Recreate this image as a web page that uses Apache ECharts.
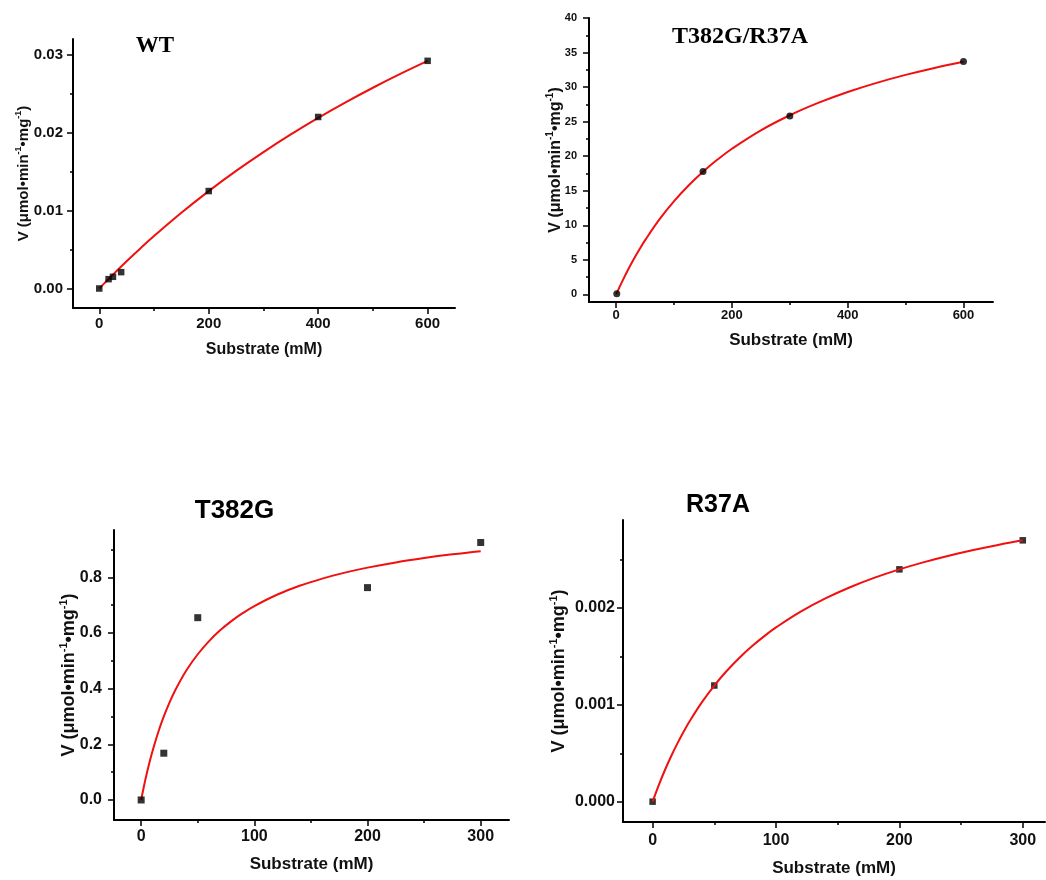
<!DOCTYPE html>
<html>
<head>
<meta charset="utf-8">
<script src="https://cdn.jsdelivr.net/npm/echarts@6/dist/echarts.min.js"></script>
<style>html,body{margin:0;padding:0;background:#fff}#chart{width:1046px;height:880px}</style>
</head>
<body>
<div id="chart"></div>
<script>
// ---------- data ----------
const wtSubstrate = [0, 17, 25, 40, 200, 400, 600];
const wtVelocity = [0, 0.0012, 0.0015, 0.0021, 0.0125, 0.0220, 0.0292];
const wtFitSubstrate = [0, 10, 25, 50, 75, 100, 150, 200, 250, 300, 350, 400, 450, 500, 550, 600];
const wtFitVelocity = [0, 0.000722, 0.001784, 0.003496, 0.005142, 0.006725, 0.009716, 0.012495, 0.015082, 0.017498, 0.019759, 0.021879, 0.023872, 0.025747, 0.027516, 0.029186];

const dmSubstrate = [1, 150, 300, 600];
const dmVelocity = [0.1, 17.8, 25.8, 33.7];
const dmFitSubstrate = [0, 5, 10, 20, 30, 40, 50, 75, 100, 125, 150, 175, 200, 250, 300, 350, 400, 450, 500, 550, 600];
const dmFitVelocity = [0, 0.921, 1.808, 3.485, 5.044, 6.498, 7.856, 10.893, 13.502, 15.769, 17.756, 19.512, 21.076, 23.739, 25.923, 27.746, 29.291, 30.616, 31.767, 32.775, 33.664];

const tgSubstrate = [0, 20, 50, 200, 300];
const tgVelocity = [0, 0.168, 0.655, 0.763, 0.925];
const tgFitSubstrate = [0, 2.5, 5, 7.5, 10, 15, 20, 25, 30, 40, 50, 60, 70, 80, 90, 100, 120, 140, 160, 180, 200, 225, 250, 275, 300];
const tgFitVelocity = [0, 0.0501, 0.0957, 0.1372, 0.1753, 0.2425, 0.3000, 0.3498, 0.3933, 0.4658, 0.5236, 0.5709, 0.6103, 0.6436, 0.6721, 0.6968, 0.7374, 0.7695, 0.7954, 0.8168, 0.8348, 0.8536, 0.8692, 0.8825, 0.8938];

const raSubstrate = [0, 50, 200, 300];
const raVelocity = [0, 0.0012, 0.0024, 0.0027];
const raFitSubstrate = [0, 5, 10, 15, 20, 25, 30, 40, 50, 60, 70, 80, 90, 100, 120, 140, 160, 180, 200, 220, 240, 260, 280, 300];
const raFitVelocity = [0, 0.0001714, 0.0003273, 0.0004696, 0.0006, 0.00072, 0.0008308, 0.0010286, 0.0012, 0.00135, 0.0014824, 0.0016, 0.0017053, 0.0018, 0.0019636, 0.0021, 0.0022154, 0.0023143, 0.0024, 0.002475, 0.0025412, 0.0026, 0.0026526, 0.0027];

// tick values and labels
const wtXTicks = [0, 200, 400, 600];           const wtXLabels = ['0', '200', '400', '600'];
const wtXMinor = [100, 300, 500];
const wtYTicks = [0, 0.01, 0.02, 0.03];        const wtYLabels = ['0.00', '0.01', '0.02', '0.03'];
const wtYMinor = [0.005, 0.015, 0.025];

const dmXTicks = [0, 200, 400, 600];           const dmXLabels = ['0', '200', '400', '600'];
const dmXMinor = [100, 300, 500];
const dmYTicks = [0, 5, 10, 15, 20, 25, 30, 35, 40];
const dmYLabels = ['0', '5', '10', '15', '20', '25', '30', '35', '40'];
const dmYMinor = [2.5, 7.5, 12.5, 17.5, 22.5, 27.5, 32.5, 37.5];

const tgXTicks = [0, 100, 200, 300];           const tgXLabels = ['0', '100', '200', '300'];
const tgXMinor = [50, 150, 250];
const tgYTicks = [0, 0.2, 0.4, 0.6, 0.8];      const tgYLabels = ['0.0', '0.2', '0.4', '0.6', '0.8'];
const tgYMinor = [0.1, 0.3, 0.5, 0.7, 0.9];

const raXTicks = [0, 100, 200, 300];           const raXLabels = ['0', '100', '200', '300'];
const raXMinor = [50, 150, 250];
const raYTicks = [0, 0.001, 0.002];            const raYLabels = ['0.000', '0.001', '0.002'];
const raYMinor = [0.0005, 0.0015, 0.0025];

const panelTitles = ['WT', 'T382G/R37A', 'T382G', 'R37A'];
const xName = 'Substrate (mM)';
const yName = 'V (μmol•min{s|-1}•mg{s|-1})';

// ---------- layout / style ----------
const SANS = '"Liberation Sans", Arial, sans-serif';
const SERIF = '"Liberation Serif", "Times New Roman", serif';

const panels = [
  { grid: {left: 73, top: 39, width: 382, height: 269}, x: [-48, 650], y: [-0.0025, 0.032],
    xt: wtXTicks, xl: wtXLabels, xm: wtXMinor, yt: wtYTicks, yl: wtYLabels, ym: wtYMinor,
    xFont: 15, yFont: 15, xMargin: 8, yMargin: 10, xNameFont: 16, yNameFont: 15, xNameGap: 34, yNameGap: 39,
    pts: [wtSubstrate, wtVelocity], fit: [wtFitSubstrate, wtFitVelocity], symbol: 'rect', symSize: 6.5, lineTop: false,
    title: {x: 155, y: 46, font: 'bold 23px ' + SERIF} },
  { grid: {left: 589, top: 18, width: 404, height: 284}, x: [-47, 651], y: [-1.1, 40],
    xt: dmXTicks, xl: dmXLabels, xm: dmXMinor, yt: dmYTicks, yl: dmYLabels, ym: dmYMinor,
    xFont: 13, yFont: 11, xMargin: 7, yMargin: 12, xNameFont: 17, yNameFont: 16, xNameGap: 30, yNameGap: 23,
    pts: [dmSubstrate, dmVelocity], fit: [dmFitSubstrate, dmFitVelocity], symbol: 'circle', symSize: 7, lineTop: false,
    title: {x: 740, y: 37, font: 'bold 24px ' + SERIF} },
  { grid: {left: 114, top: 530, width: 395, height: 290}, x: [-24, 325], y: [-0.072, 0.97],
    xt: tgXTicks, xl: tgXLabels, xm: tgXMinor, yt: tgYTicks, yl: tgYLabels, ym: tgYMinor,
    xFont: 16, yFont: 16, xMargin: 9, yMargin: 12, xNameFont: 17, yNameFont: 18, xNameGap: 36, yNameGap: 33,
    pts: [tgSubstrate, tgVelocity], fit: [tgFitSubstrate, tgFitVelocity], symbol: 'rect', symSize: 7, lineTop: false,
    title: {x: 234.5, y: 511, font: 'bold 26px ' + SANS} },
  { grid: {left: 623, top: 520, width: 422, height: 302}, x: [-24, 318], y: [-0.00021, 0.00291],
    xt: raXTicks, xl: raXLabels, xm: raXMinor, yt: raYTicks, yl: raYLabels, ym: raYMinor,
    xFont: 16, yFont: 16, xMargin: 11, yMargin: 8, xNameFont: 17, yNameFont: 18, xNameGap: 38, yNameGap: 52,
    pts: [raSubstrate, raVelocity], fit: [raFitSubstrate, raFitVelocity], symbol: 'rect', symSize: 6.5, lineTop: true,
    title: {x: 718, y: 505, font: 'bold 25px ' + SANS} }
];

const grids = [], xAxes = [], yAxes = [], series = [], graphics = [];

function labelFor(ticks, labels) {
  return function (v) {
    for (let i = 0; i < ticks.length; i++) if (Math.abs(ticks[i] - v) < 1e-9) return labels[i];
    return '';
  };
}

panels.forEach(function (p, i) {
  grids.push(Object.assign({containLabel: false}, p.grid));
  const lineStyle = {color: '#000', width: 2};
  xAxes.push({
    type: 'value', gridIndex: i, position: 'bottom', min: p.x[0], max: p.x[1],
    axisLine: {show: true, onZero: false, lineStyle: lineStyle},
    axisTick: {show: true, customValues: p.xt, length: 6, lineStyle: {color: '#000', width: 1.5}},
    axisLabel: {customValues: p.xt, formatter: labelFor(p.xt, p.xl), color: '#111', fontSize: p.xFont,
      fontWeight: 'bold', fontFamily: SANS, margin: p.xMargin},
    splitLine: {show: false},
    name: xName, nameLocation: 'middle', nameGap: p.xNameGap, nameMoveOverlap: false,
    nameTextStyle: {color: '#111', fontSize: p.xNameFont, fontWeight: 'bold', fontFamily: SANS}
  });
  xAxes.push({
    type: 'value', gridIndex: i, position: 'bottom', min: p.x[0], max: p.x[1],
    axisLine: {show: false, onZero: false},
    axisTick: {show: true, customValues: p.xm, length: 3, lineStyle: {color: '#000', width: 1.5}},
    axisLabel: {show: false}, splitLine: {show: false}
  });
  yAxes.push({
    type: 'value', gridIndex: i, position: 'left', min: p.y[0], max: p.y[1],
    axisLine: {show: true, onZero: false, lineStyle: lineStyle},
    axisTick: {show: true, customValues: p.yt, length: 6, lineStyle: {color: '#000', width: 1.5}},
    axisLabel: {customValues: p.yt, formatter: labelFor(p.yt, p.yl), color: '#111', fontSize: p.yFont,
      fontWeight: 'bold', fontFamily: SANS, margin: p.yMargin},
    splitLine: {show: false},
    name: yName, nameLocation: 'middle', nameRotate: 90, nameGap: p.yNameGap, nameMoveOverlap: false,
    nameTextStyle: {color: '#111', fontSize: p.yNameFont, fontWeight: 'bold', fontFamily: SANS,
      lineHeight: Math.round(p.yNameFont * 1.3),
      rich: {s: {fontSize: Math.round(p.yNameFont * 0.6), fontWeight: 'bold', fontFamily: SANS, color: '#111',
        verticalAlign: 'top', lineHeight: Math.round(p.yNameFont * 0.7)}}}
  });
  yAxes.push({
    type: 'value', gridIndex: i, position: 'left', min: p.y[0], max: p.y[1],
    axisLine: {show: false, onZero: false},
    axisTick: {show: true, customValues: p.ym, length: 3, lineStyle: {color: '#000', width: 1.5}},
    axisLabel: {show: false}, splitLine: {show: false}
  });

  const ptsData = p.pts[0].map(function (s, k) { return [s, p.pts[1][k]]; });
  const fitData = p.fit[0].map(function (s, k) { return [s, p.fit[1][k]]; });
  series.push({
    type: 'line', xAxisIndex: 2 * i, yAxisIndex: 2 * i, data: fitData, smooth: 0.4,
    showSymbol: false, symbol: 'none', lineStyle: {color: '#f01010', width: 2}, z: p.lineTop ? 5 : 2,
    silent: true
  });
  series.push({
    type: 'scatter', xAxisIndex: 2 * i, yAxisIndex: 2 * i, data: ptsData,
    symbol: p.symbol, symbolSize: p.symSize, itemStyle: {color: '#000'}, z: 3
  });

  graphics.push({
    type: 'text', x: p.title.x, y: p.title.y,
    style: {text: panelTitles[i], font: p.title.font, fill: '#000',
      align: 'center', verticalAlign: 'middle', textAlign: 'center', textVerticalAlign: 'middle'}
  });
});

const chart = echarts.init(document.getElementById('chart'), null, {renderer: 'canvas'});
chart.setOption({
  animation: false,
  backgroundColor: '#fff',
  grid: grids,
  xAxis: xAxes,
  yAxis: yAxes,
  series: series,
  graphic: {elements: graphics}
});
</script>
</body>
</html>
